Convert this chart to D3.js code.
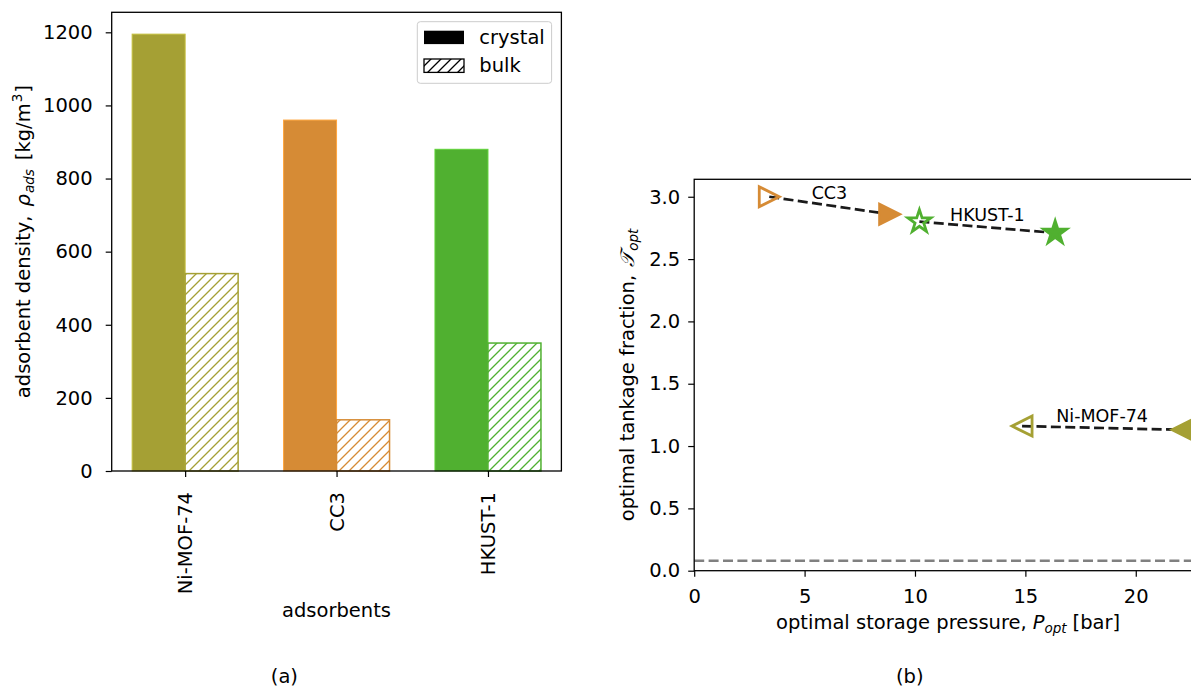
<!DOCTYPE html>
<html>
<head>
<meta charset="utf-8">
<script src="https://cdn.jsdelivr.net/npm/d3@7"></script>
<style>
  body { margin: 0; background: #fff; }
  svg { font-family: "DejaVu Sans", sans-serif; }
  .axis text { font-size: 19.5px; fill: #000; font-family: "DejaVu Sans", sans-serif; }
  .axis line { stroke: #000; stroke-width: 1.2; }
  .axis path { display: none; }
  .lbl { font-size: 19.5px; fill: #000; }
  .name { font-size: 17.5px; }
</style>
</head>
<body>
<svg id="chart" width="1191" height="689"></svg>
<script>
// Data
const adsorbents = ["Ni-MOF-74", "CC3", "HKUST-1"];
const colors = ["#a5a034", "#d68b35", "#50b030"];
const crystalDensity = [1195, 960, 880]; // kg/m^3
const bulkDensity = [540, 140, 350];
// optimal storage pressure [bar] / tankage fraction, crystal (filled) and bulk (open)
const pOptCrystal = [22.1, 8.85, 16.35];
const tOptCrystal = [1.13, 2.86, 2.71];
const pOptBulk = [14.85, 3.4, 10.2];
const tOptBulk = [1.16, 3.0, 2.80];
const markers = ["triangleLeft", "triangleRight", "star"];
const refTankage = 0.08;
const legendEntries = ["crystal", "bulk"];
const densityTicks = [0, 200, 400, 600, 800, 1000, 1200];
const pressureTicks = [0, 5, 10, 15, 20];
const tankageTicks = [0, 0.5, 1, 1.5, 2, 2.5, 3];

const svg = d3.select("#chart");
const defs = svg.append("defs");

// Diagonal '/' hatch, one per colour
function hatch(id, color) {
  const p = defs.append("pattern")
    .attr("id", id)
    .attr("patternUnits", "userSpaceOnUse")
    .attr("width", 10).attr("height", 10);
  p.append("rect").attr("width", 10).attr("height", 10).attr("fill", "#fff");
  p.append("path")
    .attr("d", "M-2,2 L2,-2 M0,10 L10,0 M8,12 L12,8")
    .attr("stroke", color)
    .attr("stroke-width", 1.3);
  return `url(#${id})`;
}
const hatchFill = colors.map((c, i) => hatch("hatch" + i, c));
const hatchBlack = hatch("hatchK", "#000");

/*
 * Panel (a): adsorbent densities
 */
const a = {left: 111.7, right: 561.4, top: 12.3, bottom: 471};
const barW = 0.35;
const lo = -barW, hi = adsorbents.length - 1 + barW;
const pad = (hi - lo) * 0.05;

const x = d3.scaleLinear().domain([lo - pad, hi + pad]).range([a.left, a.right]);
const y = d3.scaleLinear().domain([0, d3.max(crystalDensity) * 1.05]).range([a.bottom, a.top]);

const ga = svg.append("g");

ga.selectAll(".crystal")
  .data(crystalDensity)
  .enter().append("rect")
  .attr("class", "crystal")
  .attr("x", (d, i) => x(i - barW))
  .attr("width", (d, i) => x(i) - x(i - barW))
  .attr("y", d => y(d))
  .attr("height", d => y(0) - y(d))
  .attr("fill", (d, i) => colors[i])
  .attr("stroke", (d, i) => d3.color(colors[i]).brighter(0.5))
  .attr("stroke-width", 1);

ga.selectAll(".bulk")
  .data(bulkDensity)
  .enter().append("rect")
  .attr("class", "bulk")
  .attr("x", (d, i) => x(i))
  .attr("width", (d, i) => x(i + barW) - x(i))
  .attr("y", d => y(d))
  .attr("height", d => y(0) - y(d))
  .attr("fill", (d, i) => hatchFill[i])
  .attr("stroke", (d, i) => colors[i])
  .attr("stroke-width", 1.5);

ga.append("rect")
  .attr("x", a.left).attr("y", a.top)
  .attr("width", a.right - a.left).attr("height", a.bottom - a.top)
  .attr("fill", "none").attr("stroke", "#000").attr("stroke-width", 1.3);

ga.append("g").attr("class", "axis")
  .attr("transform", `translate(${a.left},0)`)
  .call(d3.axisLeft(y).tickValues(densityTicks).tickFormat(d3.format("d")).tickSize(6).tickPadding(13));

const xAxisA = ga.append("g").attr("class", "axis")
  .attr("transform", `translate(0,${a.bottom})`)
  .call(d3.axisBottom(x).tickValues(d3.range(adsorbents.length))
    .tickFormat(i => adsorbents[i]).tickSize(6));
xAxisA.selectAll("text")
  .attr("x", -21).attr("y", 0).attr("dy", "0.35em")
  .attr("transform", "rotate(-90)")
  .style("text-anchor", "end");

// Legend
const leg = ga.append("g");
leg.append("rect")
  .attr("x", 417.3).attr("y", 21.7).attr("width", 134.3).attr("height", 61.6)
  .attr("rx", 3).attr("fill", "#fff").attr("fill-opacity", 0.8)
  .attr("stroke", "#cccccc").attr("stroke-width", 1);
legendEntries.forEach((name, i) => {
  const yy = 30.7 + i * 28.3;
  leg.append("rect")
    .attr("x", 424).attr("y", yy).attr("width", 40).attr("height", 13.4)
    .attr("fill", i === 0 ? "#000" : hatchBlack)
    .attr("stroke", "#000").attr("stroke-width", i === 0 ? 0 : 1.3);
  leg.append("text").attr("class", "lbl")
    .attr("x", 479.3).attr("y", yy + 13.4)
    .text(name);
});

// Axis labels, panel (a)
const yLabA = ga.append("text").attr("class", "lbl")
  .attr("text-anchor", "middle")
  .attr("transform", `translate(29.5,${(a.top + a.bottom) / 2}) rotate(-90)`);
yLabA.append("tspan").text("adsorbent density,");
yLabA.append("tspan").attr("dx", 9).attr("font-style", "italic").text("ρ");
yLabA.append("tspan").attr("font-style", "italic").attr("font-size", "13.5px").attr("dx", 1).attr("dy", 4).text("ads");
yLabA.append("tspan").attr("dx", 9).attr("dy", -4).text("[kg/m");
yLabA.append("tspan").attr("font-size", "13.5px").attr("dx", 1).attr("dy", -8).text("3");
yLabA.append("tspan").attr("dx", 1).attr("dy", 8).text("]");

ga.append("text").attr("class", "lbl")
  .attr("x", (a.left + a.right) / 2).attr("y", 616.7)
  .attr("text-anchor", "middle").text("adsorbents");

ga.append("text").attr("class", "lbl")
  .attr("x", 284.4).attr("y", 683).attr("text-anchor", "middle").text("(a)");

/*
 * Panel (b): optimal tankage fraction vs storage pressure
 */
const b = {left: 694.2, right: 1202, top: 179.3, bottom: 570.7};
const xp = d3.scaleLinear().domain([0, 23]).range([b.left, b.right]);
const yt = d3.scaleLinear().domain([0, 3.14]).range([b.bottom, b.top]);

const gb = svg.append("g");

gb.append("line")
  .attr("x1", b.left).attr("x2", b.right)
  .attr("y1", yt(refTankage)).attr("y2", yt(refTankage))
  .attr("stroke", "#808080").attr("stroke-width", 2.7)
  .attr("stroke-dasharray", "10,4.4");

// Dashed connectors bulk -> crystal
gb.selectAll(".conn")
  .data(adsorbents)
  .enter().append("line")
  .attr("class", "conn")
  .attr("x1", (d, i) => xp(pOptBulk[i])).attr("y1", (d, i) => yt(tOptBulk[i]))
  .attr("x2", (d, i) => xp(pOptCrystal[i])).attr("y2", (d, i) => yt(tOptCrystal[i]))
  .attr("stroke", "#1a1a1a").attr("stroke-width", 2.7)
  .attr("stroke-dasharray", "10,4.4");

function markerPath(type, s) {
  const h = s / 2;
  if (type === "triangleRight") return `M${-h},${-h}L${h},0L${-h},${h}Z`;
  if (type === "triangleLeft") return `M${h},${-h}L${-h},0L${h},${h}Z`;
  // five-pointed star, inner radius ratio as matplotlib
  const pts = d3.range(10).map(k => {
    const r = k % 2 ? h * 0.381966 : h;
    const ang = -Math.PI / 2 + k * Math.PI / 5;
    return [r * Math.cos(ang), r * Math.sin(ang)];
  });
  return "M" + pts.join("L") + "Z";
}

function markerSize(type) { return type === "star" ? 24 : 20; }

gb.selectAll(".mBulk")
  .data(adsorbents)
  .enter().append("path")
  .attr("class", "mBulk")
  .attr("transform", (d, i) => `translate(${xp(pOptBulk[i])},${yt(tOptBulk[i])})`)
  .attr("d", (d, i) => markerPath(markers[i], markerSize(markers[i])))
  .attr("fill", "none")
  .attr("stroke", (d, i) => colors[i]).attr("stroke-width", 2.8);

gb.selectAll(".mCrystal")
  .data(adsorbents)
  .enter().append("path")
  .attr("class", "mCrystal")
  .attr("transform", (d, i) => `translate(${xp(pOptCrystal[i])},${yt(tOptCrystal[i])})`)
  .attr("d", (d, i) => markerPath(markers[i], markerSize(markers[i])))
  .attr("fill", (d, i) => colors[i])
  .attr("stroke", (d, i) => colors[i]).attr("stroke-width", 2.8);

// Names above the middle of each connector
gb.selectAll(".name")
  .data(adsorbents)
  .enter().append("text")
  .attr("class", "lbl name")
  .attr("text-anchor", "middle")
  .attr("x", (d, i) => (xp(pOptBulk[i]) + xp(pOptCrystal[i])) / 2)
  .attr("y", (d, i) => (yt(tOptBulk[i]) + yt(tOptCrystal[i])) / 2 - 6)
  .text(d => d);

gb.append("rect")
  .attr("x", b.left).attr("y", b.top)
  .attr("width", b.right - b.left).attr("height", b.bottom - b.top)
  .attr("fill", "none").attr("stroke", "#000").attr("stroke-width", 1.3);

gb.append("g").attr("class", "axis")
  .attr("transform", `translate(${b.left},0)`)
  .call(d3.axisLeft(yt).tickValues(tankageTicks).tickFormat(d3.format(".1f")).tickSize(6).tickPadding(8));

gb.append("g").attr("class", "axis")
  .attr("transform", `translate(0,${b.bottom})`)
  .call(d3.axisBottom(xp).tickValues(pressureTicks).tickSize(6).tickPadding(12));

const yLabB = gb.append("text").attr("class", "lbl")
  .attr("text-anchor", "middle")
  .attr("transform", `translate(634,${(b.top + b.bottom) / 2}) rotate(-90)`);
yLabB.append("tspan").text("optimal tankage fraction,");
yLabB.append("tspan").attr("dx", 8).attr("font-style", "italic").text("𝒯");
yLabB.append("tspan").attr("font-style", "italic").attr("font-size", "13.5px").attr("dx", 1).attr("dy", 4).text("opt");

const xLabB = gb.append("text").attr("class", "lbl")
  .attr("text-anchor", "middle")
  .attr("x", (b.left + b.right) / 2).attr("y", 629.3);
xLabB.append("tspan").text("optimal storage pressure,");
xLabB.append("tspan").attr("dx", 6).attr("font-style", "italic").text("P");
xLabB.append("tspan").attr("font-style", "italic").attr("font-size", "13.5px").attr("dy", 4).text("opt");
xLabB.append("tspan").attr("dx", 6).attr("dy", -4).text("[bar]");

gb.append("text").attr("class", "lbl")
  .attr("x", 909.8).attr("y", 683).attr("text-anchor", "middle").text("(b)");
</script>
</body>
</html>
